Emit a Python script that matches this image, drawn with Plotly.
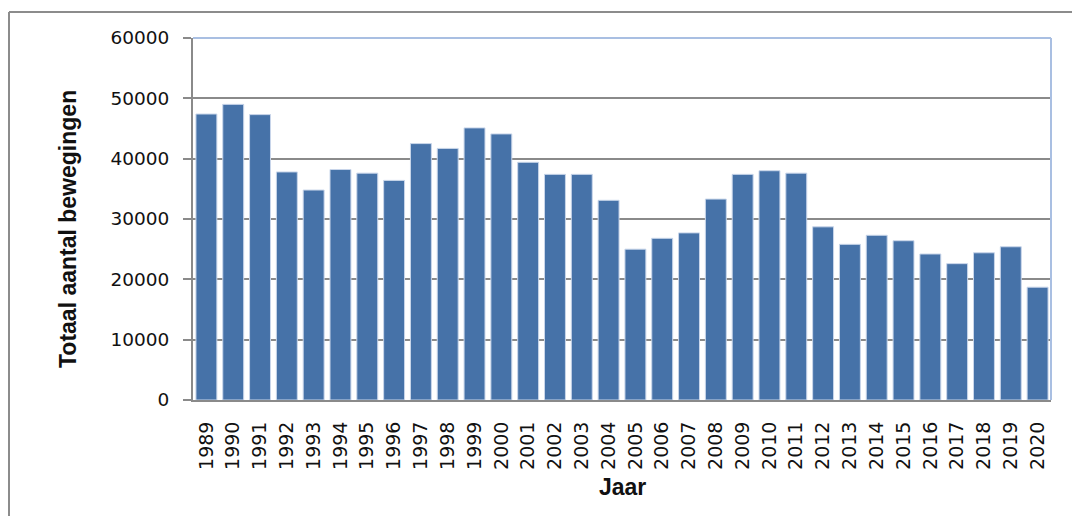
import plotly.graph_objects as go

# Annual totals of movements per year
years = [str(y) for y in range(1989, 2021)]
movements = [
    47400, 49000, 47300, 37800, 34800, 38200, 37600, 36400,
    42500, 41700, 45100, 44100, 39400, 37400, 37400, 33100,
    25000, 26800, 27700, 33300, 37400, 38000, 37600, 28700,
    25800, 27300, 26400, 24200, 22600, 24400, 25400, 18700,
]
y_ticks = [0, 10000, 20000, 30000, 40000, 50000, 60000]

y_title = "Totaal aantal bewegingen"
x_title = "Jaar"

BAR = "#4672a8"
GRID = "#8a8a8a"
FRAME_BLUE = "#a9bfe2"

fig = go.Figure(
    go.Bar(
        x=years,
        y=movements,
        marker=dict(color=BAR, line=dict(color="#c9d6ea", width=1)),
        hoverinfo="x+y",
    )
)

fig.update_layout(
    width=1072,
    height=516,
    margin=dict(l=193, r=21, t=38, b=116),
    paper_bgcolor="white",
    plot_bgcolor="white",
    bargap=0.22,
    showlegend=False,
    font=dict(family="DejaVu Sans", size=18, color="#111111"),
)

fig.update_xaxes(
    type="category",
    tickangle=-90,
    tickfont=dict(family="DejaVu Sans", size=19, color="#111111"),
    showgrid=False,
    showline=True,
    linecolor=GRID,
    linewidth=2,
    ticks="",
    ticklabelstandoff=12,
)

fig.update_yaxes(
    range=[0, 60000],
    tickvals=y_ticks,
    tickformat="d",
    tickfont=dict(family="DejaVu Sans", size=18.5, color="#111111"),
    showgrid=True,
    gridcolor=GRID,
    gridwidth=2,
    showline=True,
    linecolor=GRID,
    linewidth=2,
    ticks="outside",
    ticklen=8,
    tickwidth=2,
    tickcolor=GRID,
    ticklabelstandoff=10,
    zeroline=False,
)

# Plot-area border on top and right
fig.add_shape(type="line", xref="paper", yref="paper", x0=0, x1=1, y0=1, y1=1,
              line=dict(color=FRAME_BLUE, width=2), layer="above")
fig.add_shape(type="line", xref="paper", yref="paper", x0=1, x1=1, y0=0, y1=1,
              line=dict(color=FRAME_BLUE, width=2), layer="above")

# Outer chart frame (top and left edges)
fig.add_shape(type="line", xref="paper", yref="paper",
              x0=-184 / 858, x1=1.05, y0=1 + 26 / 362, y1=1 + 26 / 362,
              line=dict(color="#8c8c8c", width=2))
fig.add_shape(type="line", xref="paper", yref="paper",
              x0=-184 / 858, x1=-184 / 858, y0=1 + 26 / 362, y1=-0.5,
              line=dict(color="#8c8c8c", width=2))

# Axis titles
fig.add_annotation(text=f"<b>{y_title}</b>", xref="paper", yref="paper",
                   x=-125 / 858, y=171 / 362, textangle=-90, showarrow=False,
                   xanchor="center", yanchor="middle",
                   font=dict(family="Liberation Sans", size=23, color="#111111"))
fig.add_annotation(text=f"<b>{x_title}</b>", xref="paper", yref="paper",
                   x=0.5, y=-87 / 362, yanchor="middle", showarrow=False,
                   font=dict(family="Liberation Sans", size=23, color="#111111"))

fig.write_html("out.html")
